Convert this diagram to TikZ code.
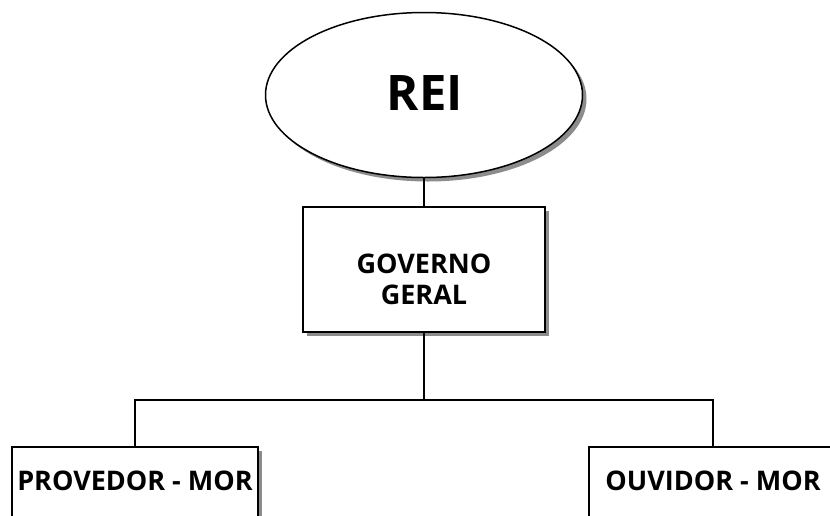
\documentclass[tikz,border=0pt]{standalone}
\usepackage{fontspec}
\setmainfont{Open Sans}
\usetikzlibrary{shapes.geometric,shadows}
\begin{document}
\begin{tikzpicture}[x=1pt,y=-1pt,
  shade/.style={drop shadow={shadow xshift=4pt,shadow yshift=-4pt,fill=black!45,opacity=1}},
  unit/.style={draw=black,line width=1.5pt,fill=white,shade,inner sep=0pt},
  title/.style={font=\bfseries,inner sep=0pt,align=center},
  link/.style={line width=1.9pt}]
\useasboundingbox[fill=white] (0,0) rectangle (830,515);

% king
\node[unit,ellipse,minimum width=317pt,minimum height=165pt] (rei) at (424,95) {};
\node[title,font=\bfseries\fontsize{49}{49}\selectfont] (reiT) at (425,93) {REI};

% general government
\node[unit,minimum width=242pt,minimum height=125pt] (gov) at (424,269.5) {};
\node[title,font=\bfseries\fontsize{27}{31}\selectfont] (govT) at (424,279) {GOVERNO\\GERAL};

% lower offices
\node[unit,minimum width=246pt,minimum height=100pt] (prov) at (135,497) {};
\node[unit,minimum width=270pt,minimum height=100pt] (ouv) at (724,497) {};
\node[title,font=\bfseries\fontsize{27}{27}\selectfont] (provT) at (135,481) {PROVEDOR - MOR};
\node[title,font=\bfseries\fontsize{27}{27}\selectfont] (ouvT) at (713,481) {OUVIDOR - MOR};

% connectors
\coordinate (busL) at (135,400);
\coordinate (busR) at (713,400);
\draw[link] (rei.south) -- (gov.north);
\draw[link] (gov.south) -- (gov.south |- busL);
\draw[link] (prov.north) -- (busL) -- (busR) -- (busR |- ouv.north);
\end{tikzpicture}
\end{document}
